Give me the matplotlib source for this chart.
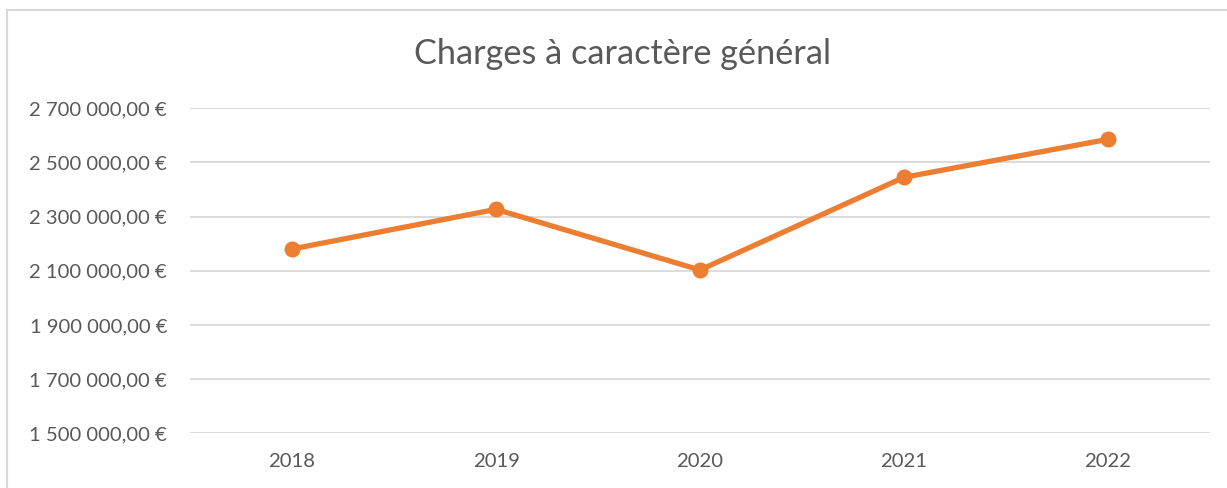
import matplotlib
matplotlib.use("Agg")
import matplotlib.pyplot as plt
from matplotlib.ticker import FuncFormatter
from matplotlib.patches import Rectangle

years = ["2018", "2019", "2020", "2021", "2022"]
charges = [2180400, 2327000, 2103000, 2445200, 2585500]
yticks = [1500000, 1700000, 1900000, 2100000, 2300000, 2500000, 2700000]
title = "Charges à caractère général"

plt.rcParams['font.family'] = ['Lato', 'DejaVu Sans']
W, H = 1227, 488
fig = plt.figure(figsize=(W / 100, H / 100), dpi=100)
fig.patch.set_facecolor("white")

# chart border (left and top visible)
fig.add_artist(Rectangle((7 / W, -0.1), 1.2, (H - 10) / H + 0.1, transform=fig.transFigure,
                         fill=False, edgecolor="#D9D9D9", linewidth=1.5))

ax = fig.add_axes([190 / W, (H - 433.3) / H, 1020 / W, 325 / H])
x = list(range(len(years)))
ax.plot(x, charges, color="#ED7D31", linewidth=3.8, marker="o", markersize=10.5,
        solid_capstyle="round", zorder=3)
ax.set_xlim(-0.5, len(years) - 0.5)
ax.set_ylim(yticks[0], yticks[-1])
ax.set_yticks(yticks)
ax.set_xticks(x)
ax.set_xticklabels(years)


def fmt(v, pos):
    s = f"{int(round(v)):,}".replace(",", " ")
    return s + ",00 €"


ax.yaxis.set_major_formatter(FuncFormatter(fmt))
ax.grid(axis="y", color="#D9D9D9", linewidth=1.3)
ax.set_axisbelow(True)
for s in ax.spines.values():
    s.set_visible(False)
ax.tick_params(axis="both", length=0, labelsize=14.6, colors="#595959")
ax.tick_params(axis="y", pad=16.5)
ax.tick_params(axis="x", pad=14)

fig.text((415 + 830) / 2 / W, (H - 54) / H, title, ha="center", va="center",
         fontsize=24.7, color="#595959")

fig.savefig("out.png", dpi=100, facecolor="white")
